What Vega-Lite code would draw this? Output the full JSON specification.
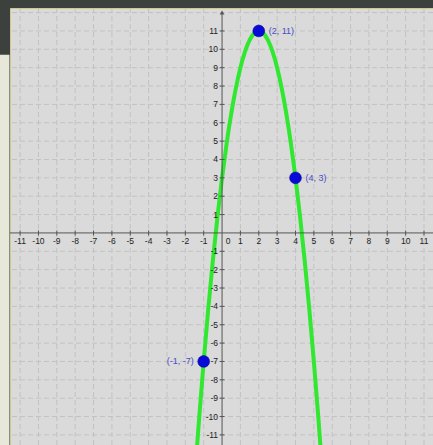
{
  "$schema": "https://vega.github.io/schema/vega-lite/v6.json",
  "width": 423,
  "height": 437,
  "autosize": {"type": "none"},
  "padding": {"left": 10, "top": 8, "right": 0, "bottom": 0},
  "background": "#3c413e",
  "config": {
    "view": {"fill": "#dadada", "stroke": "#d2c88e", "strokeWidth": 1},
    "font": "Liberation Sans"
  },
  "datasets": {
    "curve": [
      {"x": -1.5, "y": -13.5}, {"x": -1.25, "y": -10.125}, {"x": -1.0, "y": -7},
      {"x": -0.75, "y": -4.125}, {"x": -0.5, "y": -1.5}, {"x": -0.25, "y": 0.875},
      {"x": 0, "y": 3}, {"x": 0.25, "y": 4.875}, {"x": 0.5, "y": 6.5},
      {"x": 0.75, "y": 7.875}, {"x": 1.0, "y": 9}, {"x": 1.25, "y": 9.875},
      {"x": 1.5, "y": 10.5}, {"x": 1.75, "y": 10.875}, {"x": 2, "y": 11},
      {"x": 2.25, "y": 10.875}, {"x": 2.5, "y": 10.5}, {"x": 2.75, "y": 9.875},
      {"x": 3, "y": 9}, {"x": 3.25, "y": 7.875}, {"x": 3.5, "y": 6.5},
      {"x": 3.75, "y": 4.875}, {"x": 4, "y": 3}, {"x": 4.25, "y": 0.875},
      {"x": 4.5, "y": -1.5}, {"x": 4.75, "y": -4.125}, {"x": 5, "y": -7},
      {"x": 5.25, "y": -10.125}, {"x": 5.5, "y": -13.5}
    ],
    "points": [
      {"x": 2, "y": 11, "label": "(2, 11)"},
      {"x": 4, "y": 3, "label": "(4, 3)"},
      {"x": -1, "y": -7, "label": "(-1, -7)"}
    ],
    "ticks": [
      {"v": -11, "t": "-11"}, {"v": -10, "t": "-10"}, {"v": -9, "t": "-9"}, {"v": -8, "t": "-8"},
      {"v": -7, "t": "-7"}, {"v": -6, "t": "-6"}, {"v": -5, "t": "-5"}, {"v": -4, "t": "-4"},
      {"v": -3, "t": "-3"}, {"v": -2, "t": "-2"}, {"v": -1, "t": "-1"},
      {"v": 1, "t": "1"}, {"v": 2, "t": "2"}, {"v": 3, "t": "3"}, {"v": 4, "t": "4"},
      {"v": 5, "t": "5"}, {"v": 6, "t": "6"}, {"v": 7, "t": "7"}, {"v": 8, "t": "8"},
      {"v": 9, "t": "9"}, {"v": 10, "t": "10"}, {"v": 11, "t": "11"}
    ],
    "grid": [
      {"v": -11}, {"v": -10}, {"v": -9}, {"v": -8}, {"v": -7}, {"v": -6}, {"v": -5}, {"v": -4},
      {"v": -3}, {"v": -2}, {"v": -1}, {"v": 1}, {"v": 2}, {"v": 3}, {"v": 4}, {"v": 5},
      {"v": 6}, {"v": 7}, {"v": 8}, {"v": 9}, {"v": 10}, {"v": 11}, {"v": 12}
    ],
    "origin": [{"t": "0"}]
  },
  "layer": [
    {
      "data": {"values": [{}]},
      "mark": {"type": "rect", "color": "#e8e8da", "clip": false},
      "encoding": {
        "x": {"datum": -12.3, "type": "quantitative", "scale": {"domain": [-11.55, 11.49], "nice": false, "zero": false}, "axis": null},
        "x2": {"datum": -11.58},
        "y": {"datum": -12.5, "type": "quantitative", "scale": {"domain": [-11.55, 12.25], "nice": false, "zero": false}, "axis": null},
        "y2": {"datum": 9.7}
      }
    },
    {
      "data": {"name": "grid"},
      "mark": {"type": "rule", "color": "#c2c2c2", "strokeWidth": 1, "strokeDash": [5, 3], "clip": true},
      "encoding": {
        "x": {"field": "v", "type": "quantitative", "scale": {"domain": [-11.55, 11.49], "nice": false, "zero": false}, "axis": null}
      }
    },
    {
      "data": {"name": "grid"},
      "mark": {"type": "rule", "color": "#c2c2c2", "strokeWidth": 1, "strokeDash": [5, 3], "clip": true},
      "encoding": {
        "y": {"field": "v", "type": "quantitative", "scale": {"domain": [-11.55, 12.25], "nice": false, "zero": false}, "axis": null}
      }
    },
    {
      "data": {"name": "curve"},
      "mark": {"type": "line", "color": "#30e830", "strokeWidth": 4, "clip": true, "interpolate": "monotone"},
      "encoding": {
        "x": {"field": "x", "type": "quantitative", "scale": {"domain": [-11.55, 11.49], "nice": false, "zero": false}, "axis": null},
        "y": {"field": "y", "type": "quantitative", "scale": {"domain": [-11.55, 12.25], "nice": false, "zero": false}, "axis": null}
      }
    },
    {
      "data": {"values": [{}]},
      "mark": {"type": "rule", "color": "#555555", "strokeWidth": 1},
      "encoding": {
        "y": {"datum": 0, "type": "quantitative", "scale": {"domain": [-11.55, 12.25], "nice": false, "zero": false}, "axis": null}
      }
    },
    {
      "data": {"values": [{}]},
      "mark": {"type": "rule", "color": "#555555", "strokeWidth": 1, "clip": true},
      "encoding": {
        "x": {"datum": 0, "type": "quantitative", "scale": {"domain": [-11.55, 11.49], "nice": false, "zero": false}, "axis": null},
        "y": {"datum": -12.5, "type": "quantitative", "scale": {"domain": [-11.55, 12.25], "nice": false, "zero": false}, "axis": null},
        "y2": {"datum": 12.0}
      }
    },
    {
      "data": {"values": [{}]},
      "mark": {"type": "point", "shape": "triangle-up", "filled": true, "color": "#555555", "size": 22, "opacity": 1},
      "encoding": {
        "x": {"datum": 0, "type": "quantitative", "scale": {"domain": [-11.55, 11.49], "nice": false, "zero": false}, "axis": null},
        "y": {"datum": 12.0, "type": "quantitative", "scale": {"domain": [-11.55, 12.25], "nice": false, "zero": false}, "axis": null}
      }
    },
    {
      "data": {"name": "ticks"},
      "mark": {"type": "tick", "orient": "vertical", "size": 5, "thickness": 1, "color": "#555555", "opacity": 1},
      "encoding": {
        "x": {"field": "v", "type": "quantitative", "scale": {"domain": [-11.55, 11.49], "nice": false, "zero": false}, "axis": null},
        "y": {"datum": 0, "type": "quantitative", "scale": {"domain": [-11.55, 12.25], "nice": false, "zero": false}, "axis": null}
      }
    },
    {
      "data": {"name": "ticks"},
      "mark": {"type": "tick", "orient": "horizontal", "size": 5, "thickness": 1, "color": "#555555", "opacity": 1},
      "encoding": {
        "y": {"field": "v", "type": "quantitative", "scale": {"domain": [-11.55, 12.25], "nice": false, "zero": false}, "axis": null},
        "x": {"datum": 0, "type": "quantitative", "scale": {"domain": [-11.55, 11.49], "nice": false, "zero": false}, "axis": null}
      }
    },
    {
      "data": {"name": "ticks"},
      "mark": {"type": "text", "fontSize": 8.5, "color": "#222222", "align": "center", "baseline": "middle", "dy": 8},
      "encoding": {
        "x": {"field": "v", "type": "quantitative", "scale": {"domain": [-11.55, 11.49], "nice": false, "zero": false}, "axis": null},
        "y": {"datum": 0, "type": "quantitative", "scale": {"domain": [-11.55, 12.25], "nice": false, "zero": false}, "axis": null},
        "text": {"field": "t"}
      }
    },
    {
      "data": {"name": "ticks"},
      "mark": {"type": "text", "fontSize": 8.5, "color": "#222222", "align": "right", "baseline": "middle", "dx": -4},
      "encoding": {
        "y": {"field": "v", "type": "quantitative", "scale": {"domain": [-11.55, 12.25], "nice": false, "zero": false}, "axis": null},
        "x": {"datum": 0, "type": "quantitative", "scale": {"domain": [-11.55, 11.49], "nice": false, "zero": false}, "axis": null},
        "text": {"field": "t"}
      }
    },
    {
      "data": {"name": "origin"},
      "mark": {"type": "text", "fontSize": 8.5, "color": "#222222", "align": "center", "baseline": "middle", "dx": 6, "dy": 8},
      "encoding": {
        "x": {"datum": 0, "type": "quantitative", "scale": {"domain": [-11.55, 11.49], "nice": false, "zero": false}, "axis": null},
        "y": {"datum": 0, "type": "quantitative", "scale": {"domain": [-11.55, 12.25], "nice": false, "zero": false}, "axis": null},
        "text": {"field": "t"}
      }
    },
    {
      "data": {"name": "points"},
      "mark": {"type": "circle", "size": 140, "color": "#0a0ad8", "opacity": 1, "stroke": "#00008a", "strokeWidth": 0.5},
      "encoding": {
        "x": {"field": "x", "type": "quantitative", "scale": {"domain": [-11.55, 11.49], "nice": false, "zero": false}, "axis": null},
        "y": {"field": "y", "type": "quantitative", "scale": {"domain": [-11.55, 12.25], "nice": false, "zero": false}, "axis": null}
      }
    },
    {
      "data": {"name": "points"},
      "transform": [{"filter": "datum.x >= 0"}],
      "mark": {"type": "text", "fontSize": 9, "color": "#4a4ac8", "align": "left", "baseline": "middle", "dx": 10},
      "encoding": {
        "x": {"field": "x", "type": "quantitative", "scale": {"domain": [-11.55, 11.49], "nice": false, "zero": false}, "axis": null},
        "y": {"field": "y", "type": "quantitative", "scale": {"domain": [-11.55, 12.25], "nice": false, "zero": false}, "axis": null},
        "text": {"field": "label"}
      }
    },
    {
      "data": {"name": "points"},
      "transform": [{"filter": "datum.x < 0"}],
      "mark": {"type": "text", "fontSize": 9, "color": "#4a4ac8", "align": "right", "baseline": "middle", "dx": -10},
      "encoding": {
        "x": {"field": "x", "type": "quantitative", "scale": {"domain": [-11.55, 11.49], "nice": false, "zero": false}, "axis": null},
        "y": {"field": "y", "type": "quantitative", "scale": {"domain": [-11.55, 12.25], "nice": false, "zero": false}, "axis": null},
        "text": {"field": "label"}
      }
    }
  ]
}
